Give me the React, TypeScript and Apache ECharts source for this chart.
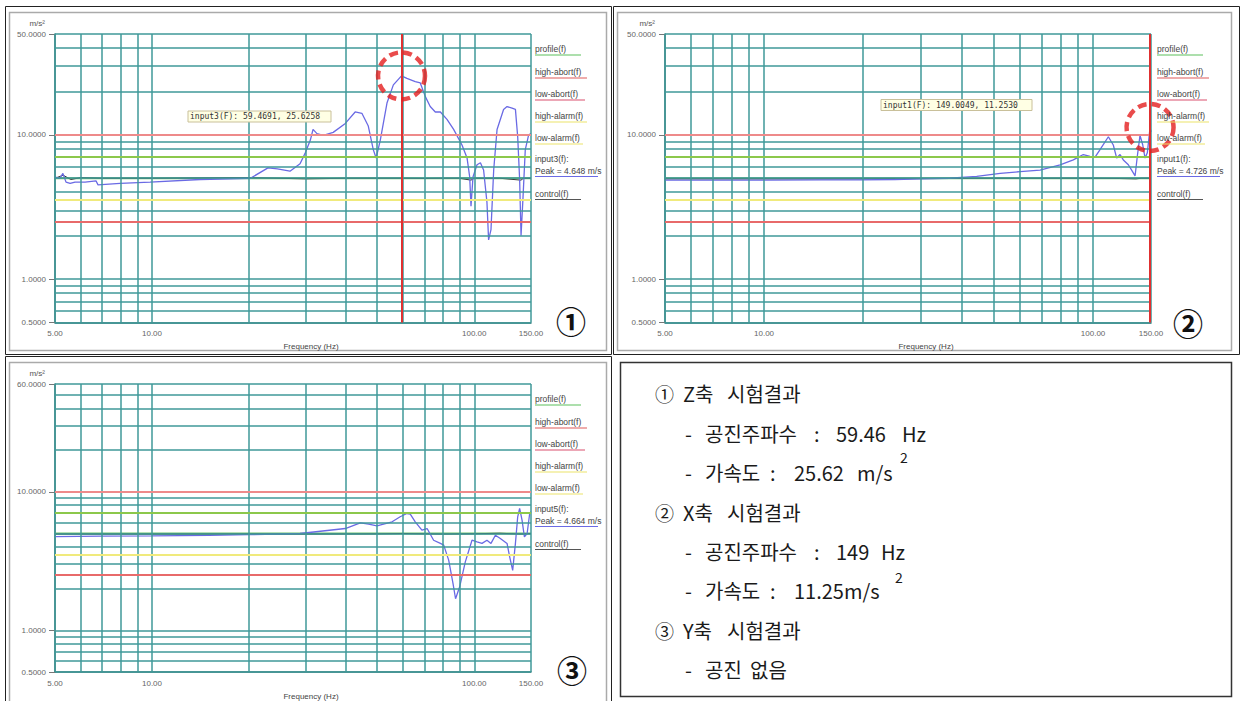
import React, { useEffect, useRef } from "react";
import * as echarts from "echarts";

// ---------- data ----------
// Panel 1: Z axis input (Hz, m/s^2)
const zFreq = [5, 5.18, 5.29, 5.41, 5.57, 5.77, 6.2, 6.7, 6.8, 7.96, 9.86, 14.1, 20.2, 22.9, 24.5, 26.8, 28.8, 29.9, 31.0, 31.6, 32.5, 34.0, 36.5, 39.8, 42.7, 44.8, 46.9, 48.6, 49.6, 51.1, 53.6, 56.1, 59.46, 61.8, 65.6, 68.0, 70.5, 73.0, 75.7, 78.5, 82.3, 86.3, 91.6, 95.0, 96.8, 97.7, 99.1, 102, 104.5, 106.9, 109.5, 110.8, 112.7, 114.9, 117.7, 123.3, 126.4, 131, 134.2, 136.4, 138.3, 139.7, 141.7, 144.0, 147.5, 150];
const zAccel = [5.1, 5.0, 5.4, 4.7, 4.6, 4.7, 4.7, 4.8, 4.5, 4.6, 4.7, 4.9, 5.0, 5.9, 5.8, 5.6, 6.3, 7.5, 9.2, 10.9, 10.2, 9.9, 10.4, 12.0, 14.4, 14.1, 11.5, 7.9, 6.9, 9.2, 16.6, 22.2, 25.62, 24.6, 23.4, 22.9, 18.4, 15.7, 14.4, 14.4, 12.8, 10.9, 8.5, 6.9, 5.1, 3.2, 5.1, 6.2, 6.4, 5.7, 3.4, 1.87, 2.2, 5.7, 10.9, 15.0, 15.7, 15.3, 15.0, 9.7, 4.9, 2.0, 3.7, 7.9, 10.0, 10.2];
const zCtrlFreq = [5, 5.3, 5.6, 6, 7, 10, 20, 30, 40, 50, 60, 70, 80, 90, 97.7, 100, 120, 139.7, 142, 150];
const zCtrlAccel = [5.0, 5.25, 4.9, 5.05, 5.0, 5.0, 5.05, 4.95, 5.0, 5.0, 5.0, 4.98, 5.0, 5.0, 4.85, 5.0, 5.0, 4.85, 5.0, 5.0];

// Panel 2: X axis input
const xFreq = [5, 8, 10, 15, 19.6, 25, 30, 36.7, 44.3, 52.2, 60, 69, 79.4, 87.1, 93.4, 97.9, 101.4, 105, 111.3, 115.2, 118, 120.8, 123.6, 128, 131, 134.2, 136.3, 138.9, 141.6, 143.9, 146.2, 149, 150];
const xAccel = [4.85, 4.85, 4.85, 4.87, 4.87, 4.9, 4.95, 5.0, 5.15, 5.4, 5.56, 5.7, 6.2, 6.7, 7.3, 7.1, 7.0, 7.9, 9.7, 8.5, 6.9, 7.3, 6.7, 6.2, 5.7, 5.2, 7.1, 9.9, 8.5, 6.9, 7.5, 11.25, 10.5];
const xCtrlFreq = [5, 20, 50, 100, 120, 135, 140, 150];
const xCtrlAccel = [4.95, 4.95, 5.0, 5.0, 4.98, 4.95, 5.0, 5.0];

// Panel 3: Y axis input
const yFreq = [5, 7, 10, 15, 20, 28.8, 39.8, 44.3, 47.0, 49.9, 55.6, 58.9, 61.8, 63.3, 65.6, 68.8, 71.4, 74.8, 78.5, 80.4, 83.3, 85.9, 87.5, 90.1, 93.8, 98.4, 102, 105.7, 109.5, 112.7, 116.3, 120.5, 126.4, 128.8, 131.6, 134.2, 136.4, 138.3, 140.7, 143.1, 145.9, 148.6, 150];
const yAccel = [4.75, 4.78, 4.8, 4.85, 4.9, 5.0, 5.43, 5.97, 5.84, 5.68, 6.07, 6.6, 6.97, 6.9, 6.07, 5.29, 5.43, 4.47, 4.24, 4.12, 3.21, 2.18, 1.69, 2.06, 3.12, 4.47, 4.35, 4.24, 4.47, 4.24, 4.86, 4.6, 4.24, 3.39, 2.71, 4.24, 6.6, 7.58, 6.24, 4.73, 5.0, 6.97, 7.2];
const yCtrlFreq = [5, 30, 50, 60, 80, 100, 120, 140, 150];
const yCtrlAccel = [4.95, 4.95, 4.97, 5.0, 4.95, 4.98, 5.02, 4.95, 5.0];

// axes / reference levels
const ampGridValues = [0.5, 0.6, 0.7, 0.8, 0.9, 1, 2, 3, 4, 5, 6, 7, 8, 9, 10, 20, 30, 40, 50];
const freqGridValues = [5, 6, 7, 8, 9, 10, 20, 30, 40, 50, 60, 70, 80, 90, 100, 150];
const yMaxValues = [50, 50, 60];
const profileLevel = 5;
const limitValues = [10, 7.07, 3.54, 2.5];
const resonancePoints = [[59.46, 25.62], [149, 11.25]];

// texts
const legendLabels = ["profile(f)", "high-abort(f)", "low-abort(f)", "high-alarm(f)", "low-alarm(f)"];
const inputLabels = ["input3(f):", "input1(f):", "input5(f):"];
const peakLabels = ["Peak = 4.648 m/s", "Peak = 4.726 m/s", "Peak = 4.664 m/s"];
const cursorLabels = ["input3(F): 59.4691, 25.6258", "input1(F): 149.0049, 11.2530"];
const panelMarks = ["①", "②", "③"];

// ---------- styles / layout ----------
const TEAL = "#3f9898";
const AXIS = "#2f6d6d";
const BLUE = "#6a6ae4";
const CTRL = "#3a3a3a";
const limitColors = ["#ee8a8a", "#8cc84b", "#f0ea7c", "#e86a6a"];
const legendColors = ["#5cc05c", "#e05a5a", "#d9506e", "#ece46a", "#ece46a"];
const legendWidths = [46, 52, 50, 52, 48];
const legendDy = [15, 38, 60, 82, 104];

const gridBoxes = [
  { left: 55, top: 34, width: 476, height: 288.5 },
  { left: 665, top: 34, width: 486, height: 288.5 },
  { left: 55, top: 384, width: 476, height: 288 },
];
const legendX = [535, 1157, 535];
const markPos = [[571, 320], [1188, 322], [572, 669]];
const cursorBoxes = [
  { x: 188, y: 111, w: 143, h: 11 },
  { x: 881, y: 99.5, w: 151, h: 11 },
];

const panelData = [
  { f: zFreq, a: zAccel, cf: zCtrlFreq, ca: zCtrlAccel },
  { f: xFreq, a: xAccel, cf: xCtrlFreq, ca: xCtrlAccel },
  { f: yFreq, a: yAccel, cf: yCtrlFreq, ca: yCtrlAccel },
];

const pairs = (xs: number[], ys: number[]) => xs.map((x, i) => [x, ys[i]]);

function buildOption() {
  const grid = gridBoxes.map((g) => ({ ...g, containLabel: false }));
  const xAxis = gridBoxes.map((_, i) => ({
    type: "log",
    logBase: 10,
    gridIndex: i,
    min: 5,
    max: 150,
    axisLine: { show: true, onZero: false, lineStyle: { color: AXIS, width: 1.5 } },
    axisTick: { show: false },
    minorTick: { show: false },
    splitLine: { show: false },
    minorSplitLine: { show: false },
    axisLabel: {
      formatter: (v: number) => Number(v).toFixed(2),
      fontSize: 8,
      color: "#666",
      margin: 7,
      fontFamily: "Liberation Sans, Arial, sans-serif",
    },
    name: "Frequency (Hz)",
    nameLocation: "middle",
    nameGap: 20,
    nameTextStyle: { fontSize: 8, color: "#444", padding: [0, 0, 0, 36], fontFamily: "Liberation Sans, Arial, sans-serif" },
  }));
  const yAxis = gridBoxes.map((_, i) => ({
    type: "log",
    logBase: 10,
    gridIndex: i,
    min: 0.5,
    max: yMaxValues[i],
    axisLine: { show: true, onZero: false, lineStyle: { color: AXIS, width: 1.5 } },
    axisTick: { show: true, length: 6, lineStyle: { color: "#777" } },
    minorTick: { show: false },
    splitLine: { show: false },
    minorSplitLine: { show: false },
    axisLabel: {
      formatter: (v: number) => Number(v).toFixed(4),
      fontSize: 8,
      color: "#666",
      margin: 9,
      fontFamily: "Liberation Sans, Arial, sans-serif",
    },
    name: "m/s²",
    nameLocation: "end",
    nameGap: 7,
    nameTextStyle: { fontSize: 8, color: "#555", align: "right", padding: [0, 10, 0, 0], fontFamily: "Liberation Sans, Arial, sans-serif" },
  }));

  const series: any[] = [];
  panelData.forEach((p, i) => {
    const yMax = yMaxValues[i];
    const hLines = ampGridValues.filter((v) => v <= yMax);
    if (hLines.indexOf(yMax) < 0) hLines.push(yMax);
    const gridLines: any[] = [
      ...hLines.map((v) => ({ yAxis: v, lineStyle: { color: TEAL, width: 1.5, type: "solid" } })),
      ...freqGridValues.map((f) => ({ xAxis: f, lineStyle: { color: TEAL, width: 1.5, type: "solid" } })),
      ...limitValues.map((v, k) => ({ yAxis: v, lineStyle: { color: limitColors[k], width: 2, type: "solid" } })),
    ];
    series.push({
      type: "line",
      name: "profile",
      xAxisIndex: i,
      yAxisIndex: i,
      data: [[5, profileLevel], [150, profileLevel]],
      showSymbol: false,
      silent: true,
      z: 2,
      lineStyle: { color: "#6cc46c", width: 2 },
      markLine: {
        silent: true,
        symbol: ["none", "none"],
        label: { show: false },
        emphasis: { disabled: true },
        data: gridLines,
      },
    });
    series.push({
      type: "line",
      name: "control",
      xAxisIndex: i,
      yAxisIndex: i,
      data: pairs(p.cf, p.ca),
      showSymbol: false,
      silent: true,
      z: 3,
      lineStyle: { color: CTRL, width: 1 },
    });
    const input: any = {
      type: "line",
      name: "input",
      xAxisIndex: i,
      yAxisIndex: i,
      data: pairs(p.f, p.a),
      showSymbol: false,
      silent: true,
      z: 4,
      lineStyle: { color: BLUE, width: 1.3 },
    };
    if (i < 2) {
      input.markLine = {
        silent: true,
        symbol: ["none", "none"],
        label: { show: false },
        data: [{ xAxis: resonancePoints[i][0], lineStyle: { color: "#e03030", width: 2, type: "solid" } }],
      };
    }
    series.push(input);
    if (i < 2) {
      series.push({
        type: "scatter",
        xAxisIndex: i,
        yAxisIndex: i,
        data: [resonancePoints[i]],
        symbol: "circle",
        symbolSize: 47,
        silent: true,
        z: 6,
        itemStyle: { color: "rgba(0,0,0,0)", borderColor: "#e41e1e", borderWidth: 4.5, borderType: [9, 5] },
      });
    }
  });

  const g: any[] = [];
  // frames
  const frame = (x: number, y: number, w: number, h: number, stroke: string, lw: number) => ({
    type: "rect",
    silent: true,
    z: -10,
    shape: { x, y, width: w, height: h },
    style: { fill: "none", stroke, lineWidth: lw },
  });
  g.push(frame(5.5, 6.5, 606, 348, "#222", 1));
  g.push(frame(9.5, 12.5, 597, 338, "#aaa", 1.5));
  g.push(frame(613.5, 6.5, 626, 348, "#222", 1));
  g.push(frame(617.5, 12.5, 614, 338, "#aaa", 1.5));
  g.push(frame(5.5, 356.5, 606, 350, "#222", 1));
  g.push(frame(9.5, 362.5, 597, 345, "#aaa", 1.5));
  g.push(frame(620.5, 362.5, 611, 334, "#333", 1.5));

  const font = "Liberation Sans, Arial, sans-serif";
  const txt = (text: string, x: number, y: number, o: any = {}) => ({
    type: "text",
    silent: true,
    z: 100,
    x,
    y,
    style: {
      text,
      fill: o.fill || "#444",
      fontSize: o.fontSize || 8.5,
      fontFamily: o.fontFamily || font,
      fontWeight: o.fontWeight || "normal",
      align: o.align || "left",
      verticalAlign: "middle",
    },
  });
  const ln = (x1: number, y1: number, x2: number, y2: number, stroke: string, lw = 1) => ({
    type: "line",
    silent: true,
    z: 100,
    shape: { x1, y1, x2, y2 },
    style: { stroke, lineWidth: lw },
  });

  // legends
  gridBoxes.forEach((b, i) => {
    const lx = legendX[i];
    legendLabels.forEach((lab, k) => {
      const y = b.top + legendDy[k];
      g.push(txt(lab, lx, y));
      g.push(ln(lx, y + 6, lx + legendWidths[k], y + 6, legendColors[k], 1.2));
    });
    g.push(txt(inputLabels[i], lx, b.top + 125));
    g.push(txt(peakLabels[i], lx, b.top + 136.5));
    g.push(ln(lx, b.top + 142.5, lx + 63, b.top + 142.5, BLUE, 1.2));
    g.push(txt("control(f)", lx, b.top + 159.5));
    g.push(ln(lx, b.top + 165.5, lx + 46, b.top + 165.5, "#555", 1.2));
    g.push(txt(panelMarks[i], markPos[i][0], markPos[i][1], { fontSize: 30, fontWeight: "bold", fill: "#111", align: "center", fontFamily: "Noto Sans CJK KR" }));
  });

  // cursor read-outs
  cursorBoxes.forEach((c, i) => {
    g.push({
      type: "rect",
      silent: true,
      z: 90,
      shape: { x: c.x, y: c.y, width: c.w, height: c.h },
      style: { fill: "#ffffe4", stroke: "#c9c09a", lineWidth: 1 },
    });
    g.push(txt(cursorLabels[i], c.x + 2, c.y + c.h / 2, { fontSize: 8, fontFamily: "DejaVu Sans Mono, monospace", fill: "#333" }));
  });

  // result text box
  const kfont = "Noto Sans CJK KR";
  const kt = (text: string, x: number, y: number, size = 20) =>
    txt(text, x, y, { fontSize: size, fontFamily: kfont, fill: "#1a1a1a" });
  const rows: [number, [string, number][]][] = [
    [393, [["①", 655], ["Z축", 683], ["시험결과", 727]]],
    [433, [["-", 685], ["공진주파수", 705], [":", 814], ["59.46", 836], ["Hz", 902]]],
    [472, [["-", 685], ["가속도", 705], [":", 770], ["25.62", 794], ["m/s", 857]]],
    [512, [["②", 655], ["X축", 683], ["시험결과", 727]]],
    [551, [["-", 685], ["공진주파수", 705], [":", 814], ["149", 836], ["Hz", 881]]],
    [590, [["-", 685], ["가속도", 705], [":", 770], ["11.25m/s", 794]]],
    [630, [["③", 655], ["Y축", 683], ["시험결과", 727]]],
    [669, [["-", 685], ["공진", 705], ["없음", 750]]],
  ];
  rows.forEach(([y, parts]) => parts.forEach(([t, x]) => g.push(kt(t, x, y, t.length === 1 && t > "z" && t < "⑩" ? 19 : 20))));
  g.push(kt("2", 900, 457, 14));
  g.push(kt("2", 895, 577, 14));

  return {
    animation: false,
    backgroundColor: "#ffffff",
    grid,
    xAxis,
    yAxis,
    series,
    graphic: { elements: g },
  };
}

export default function App() {
  const ref = useRef<HTMLDivElement>(null);
  useEffect(() => {
    if (!ref.current) return;
    const chart = echarts.init(ref.current, undefined, { renderer: "svg" });
    chart.setOption(buildOption() as any);
    return () => chart.dispose();
  }, []);
  return (
    <div
      ref={ref}
      style={{ position: "absolute", left: 0, top: 0, width: 1242, height: 701, background: "#fff" }}
    />
  );
}
